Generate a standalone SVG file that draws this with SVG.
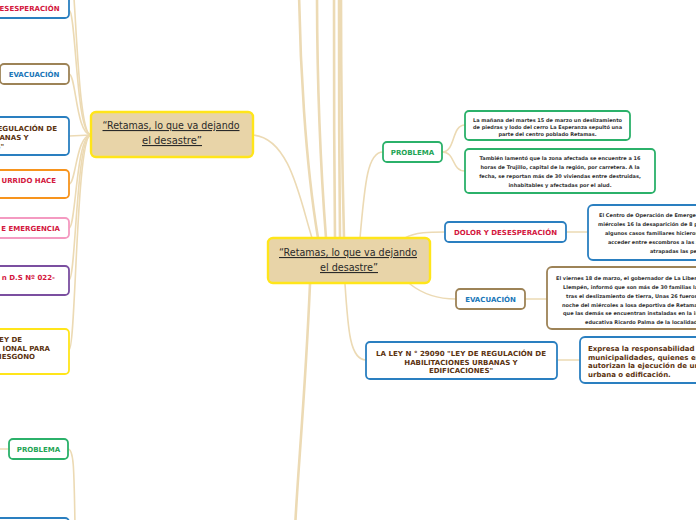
<svg xmlns="http://www.w3.org/2000/svg" width="696" height="520" viewBox="0 0 696 520">
<style>
.c{fill:none;stroke:#ecdab4;stroke-linecap:round}
.m{stroke-width:2.6}
.s{stroke-width:1.6}
.node{fill:#fff;stroke-width:1.8}
.main{fill:#e8d4a8;stroke:#ffe51a;stroke-width:2.4}
.lbl{font-family:"DejaVu Sans",Verdana,sans-serif;font-weight:bold;font-size:7px;text-anchor:middle}
.hw{font-family:"DejaVu Sans Condensed","DejaVu Sans",sans-serif;font-size:11px;fill:#2a2a2a;text-decoration:underline;text-anchor:middle}
.tx{font-family:"DejaVu Sans",Verdana,sans-serif;font-weight:bold;font-size:5px;fill:#333;text-anchor:middle}
.txs{font-family:"DejaVu Sans",Verdana,sans-serif;font-weight:bold;font-size:5px;fill:#333}
.red{fill:#d3163d}.blue{fill:#1a76b8}.green{fill:#1ea455}.brown{fill:#5c3310}
.sg{stroke:#2bb16a}.sb{stroke:#2a7fc0}.sbr{stroke:#9d8357}.so{stroke:#f7941d}.sp{stroke:#f49ac1}.su{stroke:#7b4fa0}.sy{stroke:#ffe51a}
</style>
<rect width="696" height="520" fill="#fff"/>
<g id="connectors">
<path class="c m" d="M318,238 C305,160 300,60 299,-10"/>
<path class="c m" d="M326,238 C320,160 317,60 317,-10"/>
<path class="c m" d="M335,238 C334,160 334,60 334,-10"/>
<path class="c m" d="M340,238 C339,160 339,60 339,-10"/>
<path class="c m" d="M344,238 C342,160 341,60 341,-10"/>
<path class="c s" d="M253,135 C290,138 300,200 312,238"/>
<path class="c m" d="M310,284 C305,400 297,480 295,530"/>
<path class="c s" d="M360,238 C365,180 368,152 383,152"/>
<path class="c s" d="M405,238 C415,232 430,232 445,232"/>
<path class="c s" d="M410,284 C425,296 440,299 456,299"/>
<path class="c s" d="M345,284 C348,330 350,360 366,360"/>
<path class="c s" d="M442,152 C456,152 451,125 465,125"/>
<path class="c s" d="M442,152 C456,152 451,171 465,171"/>
<path class="c s" d="M566,232 L588,232"/>
<path class="c s" d="M525,299 L547,299"/>
<path class="c s" d="M557,360 L580,360"/>
<path class="c s" d="M91,135 C76,135 76,-40 69,-40"/>
<path class="c s" d="M91,135 C76,135 76,10 69,10"/>
<path class="c s" d="M91,135 C76,135 76,74 69,74"/>
<path class="c s" d="M91,135 L69,136"/>
<path class="c s" d="M91,135 C76,135 76,184 69,184"/>
<path class="c s" d="M91,135 C76,135 76,228 69,228"/>
<path class="c s" d="M91,135 C76,135 76,280 69,280"/>
<path class="c s" d="M91,135 C76,135 76,350 69,350"/>
<path class="c s" d="M-10,449 L9,449"/>
<path class="c s" d="M68,449 C74,449 74,470 75,525"/>
</g>
<g id="center">
<rect class="main" x="268" y="238" width="162" height="45" rx="5"/>
<text class="hw" x="348" y="256" textLength="138" lengthAdjust="spacingAndGlyphs">“Retamas, lo que va dejando</text>
<text class="hw" x="349" y="271" textLength="58" lengthAdjust="spacingAndGlyphs">el desastre”</text>
</g>
<g id="center2">
<rect class="main" x="91" y="112" width="162" height="45" rx="5"/>
<text class="hw" x="171" y="129" textLength="137" lengthAdjust="spacingAndGlyphs">“Retamas, lo que va dejando</text>
<text class="hw" x="172" y="144" textLength="60" lengthAdjust="spacingAndGlyphs">el desastre”</text>
</g>
<g id="r-problema">
<rect class="node sg" x="383" y="142" width="59" height="20" rx="4"/>
<text class="lbl green" x="412.5" y="154.5">PROBLEMA</text>
</g>
<g id="r-problema-t1">
<rect class="node sg" x="465" y="111" width="165" height="29" rx="4"/>
<text class="tx" x="547.5" y="121.5" textLength="149" lengthAdjust="spacingAndGlyphs">La mañana del martes 15 de marzo un deslizamiento</text>
<text class="tx" x="547.5" y="128.5" textLength="149" lengthAdjust="spacingAndGlyphs">de piedras y lodo del cerro La Esperanza sepultó una</text>
<text class="tx" x="547.5" y="135.5">parte del centro poblado Retamas.</text>
</g>
<g id="r-problema-t2">
<rect class="node sg" x="465" y="149" width="190" height="44" rx="4"/>
<text class="tx" x="560" y="160" textLength="161" lengthAdjust="spacingAndGlyphs">También lamentó que la zona afectada se encuentre a 16</text>
<text class="tx" x="560" y="169">horas de Trujillo, capital de la región, por carretera. A la</text>
<text class="tx" x="560" y="177.5">fecha, se reportan más de 30 viviendas entre destruidas,</text>
<text class="tx" x="560" y="186.5">inhabitables y afectadas por el alud.</text>
</g>
<g id="r-dolor">
<rect class="node sb" x="445" y="222" width="121" height="20" rx="4"/>
<text class="lbl red" x="505.5" y="234.5">DOLOR Y DESESPERACIÓN</text>
</g>
<g id="r-dolor-t">
<rect class="node sb" x="588" y="205" width="140" height="55" rx="5"/>
<text class="txs" x="599" y="217">El Centro de Operación de Emerge</text>
<text class="txs" x="598" y="226">miércoles 16 la desaparición de 8 p</text>
<text class="txs" x="605" y="235">algunos casos familiares hicieron</text>
<text class="txs" x="608" y="244">acceder entre escombros a las z</text>
<text class="txs" x="650" y="253">atrapadas las pe</text>
</g>
<g id="r-evac">
<rect class="node sbr" x="456" y="289" width="69" height="20" rx="4"/>
<text class="lbl blue" x="490.5" y="301.5">EVACUACIÓN</text>
</g>
<g id="r-evac-t">
<rect class="node sbr" x="547" y="267" width="180" height="62" rx="5"/>
<text class="txs" x="556" y="279.5">El viernes 18 de marzo, el gobernador de La Libert</text>
<text class="txs" x="563" y="288.5">Llempén, informó que son más de 30 familias las</text>
<text class="txs" x="566" y="297.5">tras el deslizamiento de tierra, Unas 26 fueron ll</text>
<text class="txs" x="562" y="306.5">noche del miércoles a losa deportiva de Retamas</text>
<text class="txs" x="563" y="315">que las demás se encuentran instaladas en la in</text>
<text class="txs" x="585" y="324">educativa Ricardo Palma de la localidad</text>
</g>
<g id="r-ley">
<rect class="node sb" x="366" y="342" width="191" height="37" rx="4"/>
<text class="lbl brown" x="461" y="356" font-size="6.5" textLength="170" lengthAdjust="spacingAndGlyphs">LA LEY N ° 29090 "LEY DE REGULACIÓN DE</text>
<text class="lbl brown" x="461" y="364.5" font-size="6.5">HABILITACIONES URBANAS Y</text>
<text class="lbl brown" x="461" y="373" font-size="6.5">EDIFICACIONES"</text>
</g>
<g id="r-ley-t">
<rect class="node sb" x="580" y="337" width="140" height="46" rx="5"/>
<text class="lbl brown" x="588" y="351" style="text-anchor:start">Expresa la responsabilidad</text>
<text class="lbl brown" x="588" y="359.5" style="text-anchor:start">municipalidades, quienes ev</text>
<text class="lbl brown" x="588" y="368" style="text-anchor:start">autorizan la ejecución de ur</text>
<text class="lbl brown" x="588" y="376.5" style="text-anchor:start">urbana o edificación.</text>
</g>
<g id="l-dolor">
<rect class="node sb" x="-60" y="-5" width="129" height="23" rx="4"/>
<text class="lbl red" x="8" y="10.5">DOLOR Y DESESPERACIÓN</text>
</g>
<g id="l-evac">
<rect class="node sbr" x="0" y="64" width="69" height="20" rx="4"/>
<text class="lbl blue" x="34" y="77">EVACUACIÓN</text>
</g>
<g id="l-ley">
<rect class="node sb" x="-130" y="117" width="199" height="38" rx="4"/>
<text class="lbl brown" x="-28" y="131" font-size="6.5" textLength="170" lengthAdjust="spacingAndGlyphs">LA LEY N ° 29090 "LEY DE REGULACIÓN DE</text>
<text class="lbl brown" x="-28" y="140" font-size="6.5">HABILITACIONES URBANAS Y</text>
<text class="lbl brown" x="-28" y="149" font-size="6.5">EDIFICACIONES"</text>
</g>
<g id="l-ocurrido">
<rect class="node so" x="-60" y="170" width="129" height="28" rx="4"/>
<text class="lbl red" x="56" y="183" style="text-anchor:end">URRIDO HACE</text>
</g>
<g id="l-emergencia">
<rect class="node sp" x="-60" y="218" width="129" height="20" rx="4"/>
<text class="lbl red" x="60" y="230.5" style="text-anchor:end">E EMERGENCIA</text>
</g>
<g id="l-ds">
<rect class="node su" x="-60" y="266" width="129" height="29" rx="4"/>
<text class="lbl red" x="55" y="279.5" style="text-anchor:end">n D.S Nº 022-</text>
</g>
<g id="l-yellow">
<rect class="node sy" x="-60" y="329" width="129" height="45" rx="4"/>
<text class="lbl brown" x="22" y="342" style="text-anchor:end">EY DE</text>
<text class="lbl brown" x="50" y="350.5" style="text-anchor:end">IONAL PARA</text>
<text class="lbl brown" x="35" y="359" style="text-anchor:end">IESGONO</text>
</g>
<g id="l-problema">
<rect class="node sg" x="9" y="439" width="59" height="20" rx="4"/>
<text class="lbl green" x="38.5" y="451.5">PROBLEMA</text>
</g>
<g id="l-bottom">
<rect class="node sb" x="-60" y="518" width="129" height="30" rx="4"/>
</g>
</svg>
